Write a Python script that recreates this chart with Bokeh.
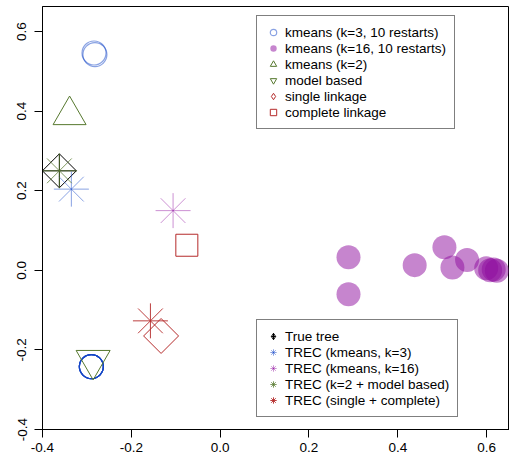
import math
from bokeh.plotting import figure
from bokeh.models import FixedTicker, Legend, LegendItem
from bokeh.embed import file_html
from bokeh.resources import INLINE

# ---- data ----
x_ticks = [-0.4, -0.2, 0.0, 0.2, 0.4, 0.6]
x_tick_labels = ["-0.4", "-0.2", "0.0", "0.2", "0.4", "0.6"]
y_ticks = [-0.4, -0.2, 0.0, 0.2, 0.4, 0.6]
y_tick_labels = ["-0.4", "-0.2", "0.0", "0.2", "0.4", "0.6"]

km3_x = [-0.284, -0.282, -0.290, -0.290, -0.290, -0.290, -0.290, -0.290, -0.290, -0.290]
km3_y = [0.546, 0.542, -0.242, -0.242, -0.242, -0.242, -0.242, -0.242, -0.242, -0.242]
km16_x = [0.289, 0.289, 0.438, 0.505, 0.523, 0.556, 0.599, 0.608, 0.616, 0.623]
km16_y = [0.033, -0.060, 0.013, 0.058, 0.007, 0.026, 0.005, 0.000, 0.002, -0.001]
km2_x = [-0.339]
km2_y = [0.390]
model_x = [-0.286]
model_y = [-0.226]
single_x = [-0.133]
single_y = [-0.165]
complete_x = [-0.075]
complete_y = [0.063]
true_x = [-0.362]
true_y = [0.250]
trec_km3_x = [-0.335]
trec_km3_y = [0.204]
trec_km16_x = [-0.106]
trec_km16_y = [0.150]
trec_k2mb_x = [-0.362]
trec_k2mb_y = [0.250]
trec_sc_x = [-0.157]
trec_sc_y = [-0.127]

blue = "#1446C8"
purple = "#8E0C9E"
green = "#56782E"
red = "#B52A2A"
FONT = "Liberation Sans"

p = figure(frame_width=467, frame_height=423,
           x_range=(-0.4, 0.6515), y_range=(-0.4, 0.6629),
           output_backend="svg", toolbar_location=None,
           min_border_left=42, min_border_right=0, min_border_top=6,
           min_border_bottom=0)
p.grid.visible = False
p.outline_line_color = "black"
p.outline_line_width = 1
p.background_fill_color = "white"
p.border_fill_color = "white"

for ax in (p.xaxis[0], p.yaxis[0]):
    ax.axis_line_color = "black"
    ax.major_tick_line_color = "black"
    ax.major_tick_out = 8
    ax.major_tick_in = 0
    ax.minor_tick_line_color = None
    ax.major_label_text_font = FONT
    ax.major_label_text_font_size = "13.5px"
    ax.major_label_text_color = "black"

p.xaxis.ticker = FixedTicker(ticks=x_ticks)
p.xaxis.major_label_overrides = {t: l for t, l in zip(x_ticks, x_tick_labels)}
p.xaxis.major_label_standoff = 5
p.yaxis.ticker = FixedTicker(ticks=y_ticks)
p.yaxis.major_label_overrides = {t: l for t, l in zip(y_ticks, y_tick_labels)}
p.yaxis.major_label_orientation = "vertical"
p.yaxis.major_label_standoff = 8

r_km16 = p.scatter(km16_x, km16_y, marker="circle", size=24,
                   fill_color=purple, fill_alpha=0.5, line_color=None)
r_km3 = p.scatter(km3_x, km3_y, marker="circle", size=24, fill_color=None,
                  line_color=blue, line_alpha=0.5, line_width=1.2)
r_km2 = p.scatter(km2_x, km2_y, marker="triangle", size=33, fill_color=None,
                  line_color=green, line_width=1)
r_model = p.scatter(model_x, model_y, marker="inverted_triangle", size=34,
                    fill_color=None, line_color=green, line_width=1)
r_single = p.scatter(single_x, single_y, marker="square", size=24.7,
                     angle=math.pi / 4, fill_color=None, line_color=red,
                     line_width=1)
r_complete = p.scatter(complete_x, complete_y, marker="square", size=22,
                       fill_color=None, line_color=red, line_width=1)
r_true = p.scatter(true_x, true_y, marker="square_x", size=24,
                   angle=math.pi / 4, fill_color=None, line_color="black",
                   line_width=1)
r_t3 = p.scatter(trec_km3_x, trec_km3_y, marker="asterisk", size=35,
                 line_color=blue, line_alpha=0.5, line_width=1)
r_t16 = p.scatter(trec_km16_x, trec_km16_y, marker="asterisk", size=35,
                  line_color=purple, line_alpha=0.45, line_width=1)
r_tk2 = p.scatter(trec_k2mb_x, trec_k2mb_y, marker="asterisk", size=35,
                  line_color=green, line_alpha=0.75, line_width=1)
r_tsc = p.scatter(trec_sc_x, trec_sc_y, marker="asterisk", size=35,
                  line_color=red, line_alpha=0.9, line_width=1)

# legend-only glyphs (the legend does not rotate markers): zero size in the
# plot, the legend sizes its glyphs itself
lg_single = p.scatter(single_x, single_y, marker="diamond", size=0,
                      fill_color=None, line_color=red, line_width=1)
lg_true = p.scatter(true_x, true_y, marker="diamond_cross", size=0,
                    fill_color=None, line_color="black", line_width=1)

def style_legend(lg):
    lg.border_line_color = "black"
    lg.border_line_width = 1
    lg.background_fill_color = "white"
    lg.background_fill_alpha = 1
    lg.label_text_font = FONT
    lg.label_text_font_size = "13.5px"
    lg.label_text_color = "black"
    lg.glyph_width = 16
    lg.glyph_height = 16
    lg.label_height = 16
    lg.label_standoff = 4
    lg.spacing = 0
    lg.padding = 8
    lg.margin = 0

top_legend = Legend(items=[
    LegendItem(label="kmeans (k=3, 10 restarts)", renderers=[r_km3]),
    LegendItem(label="kmeans (k=16, 10 restarts)", renderers=[r_km16]),
    LegendItem(label="kmeans (k=2)", renderers=[r_km2]),
    LegendItem(label="model based", renderers=[r_model]),
    LegendItem(label="single linkage", renderers=[lg_single]),
    LegendItem(label="complete linkage", renderers=[r_complete]),
], location=(214, 300))
style_legend(top_legend)

bottom_legend = Legend(items=[
    LegendItem(label="True tree", renderers=[lg_true]),
    LegendItem(label="TREC (kmeans, k=3)", renderers=[r_t3]),
    LegendItem(label="TREC (kmeans, k=16)", renderers=[r_t16]),
    LegendItem(label="TREC (k=2 + model based)", renderers=[r_tk2]),
    LegendItem(label="TREC (single + complete)", renderers=[r_tsc]),
], location=(214, 12))
style_legend(bottom_legend)

p.add_layout(top_legend, "center")
p.add_layout(bottom_legend, "center")

open("out.html", "w").write(file_html(p, INLINE))
